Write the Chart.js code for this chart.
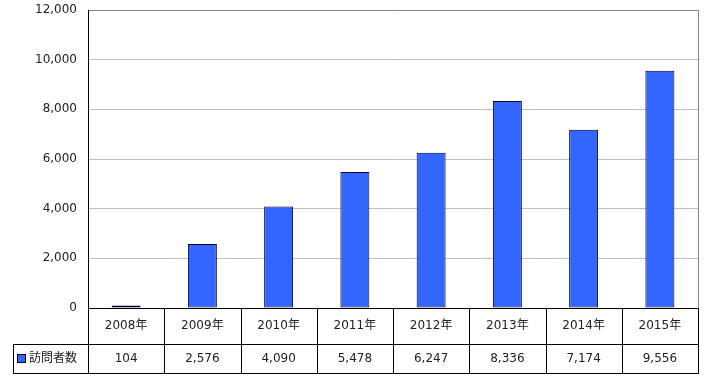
<!doctype html>
<html lang="ja">
  <head>
    <meta charset="utf-8" />
    <title>訪問者数</title>
    <style>
      body { margin: 0; background: #ffffff; }
      .chart-box { position: relative; width: 707px; height: 386px; }
    </style>
  </head>
  <body>
    <div class="chart-box">
      <canvas id="visitChart"></canvas>
    </div>

    <script src="https://cdn.jsdelivr.net/npm/chart.js@4.4.1/dist/chart.umd.min.js"></script>
    <script>
      const years = ["2008年", "2009年", "2010年", "2011年", "2012年", "2013年", "2014年", "2015年"];
      const visitors = [104, 2576, 4090, 5478, 6247, 8336, 7174, 9556];
      const seriesName = "訪問者数";
      const yTicks = [0, 2000, 4000, 6000, 8000, 10000, 12000];

      const FONT = "'DejaVu Sans', 'Noto Sans CJK JP', sans-serif";
      const TEXT = "#222222";
      const BAR_FILL = "#3366ff";
      const BAR_EDGE = "#000033";

      // table under the plot: grid lines, legend key and values
      const dataTable = {
        id: "dataTable",
        afterDraw(chart) {
          const ctx = chart.ctx;
          const area = chart.chartArea;
          const n = years.length;
          const colW = area.width / n;
          const row1 = 344, row2 = 373, leftEdge = 13;

          ctx.save();
          ctx.strokeStyle = "#000000";
          ctx.lineWidth = 1;
          ctx.beginPath();
          for (let i = 0; i <= n; i++) {
            const xb = Math.round(area.left + i * colW) + 0.5;
            ctx.moveTo(xb, area.bottom);
            ctx.lineTo(xb, row2);
          }
          ctx.moveTo(leftEdge + 0.5, row1);
          ctx.lineTo(leftEdge + 0.5, row2);
          ctx.moveTo(leftEdge, row1 + 0.5);
          ctx.lineTo(area.right + 1, row1 + 0.5);
          ctx.moveTo(leftEdge, row2 + 0.5);
          ctx.lineTo(area.right + 1, row2 + 0.5);
          ctx.stroke();

          // right border of plot
          ctx.strokeStyle = "#888888";
          ctx.beginPath();
          ctx.moveTo(Math.round(area.right) + 0.5, area.top);
          ctx.lineTo(Math.round(area.right) + 0.5, area.bottom);
          ctx.stroke();

          // legend key
          ctx.fillStyle = BAR_FILL;
          ctx.fillRect(17, 354, 9, 9);
          ctx.strokeStyle = BAR_EDGE;
          ctx.strokeRect(17.5, 354.5, 8, 8);

          ctx.fillStyle = TEXT;
          ctx.font = "12px " + FONT;
          ctx.textBaseline = "middle";
          ctx.textAlign = "left";
          ctx.fillText(seriesName, 29, 359);

          ctx.textAlign = "center";
          const xs = chart.scales.x;
          visitors.forEach((v, i) => {
            ctx.fillText(v.toLocaleString("en-US"), xs.getPixelForValue(i), 359);
          });
          ctx.restore();
        },
      };

      new Chart(document.getElementById("visitChart"), {
        type: "bar",
        data: {
          labels: years,
          datasets: [
            {
              label: seriesName,
              data: visitors,
              backgroundColor: BAR_FILL,
              borderColor: BAR_EDGE,
              borderWidth: 1,
              borderSkipped: false,
              categoryPercentage: 1,
              barPercentage: 0.38,
            },
          ],
        },
        options: {
          responsive: true,
          maintainAspectRatio: false,
          animation: false,
          layout: { padding: { top: 10, right: 9, left: 0, bottom: 0 } },
          plugins: { legend: { display: false }, tooltip: { enabled: false } },
          scales: {
            x: {
              grid: { display: false, drawTicks: false },
              border: { color: "#000000" },
              ticks: { color: TEXT, font: { family: FONT, size: 12 }, padding: 11, maxRotation: 0 },
              afterFit(scale) {
                scale.height = 78;
                scale.paddingLeft = 0;
                scale.paddingRight = 0;
              },
            },
            y: {
              min: 0,
              max: 12000,
              afterBuildTicks(scale) { scale.ticks = yTicks.map((v) => ({ value: v })); },
              grid: {
                drawTicks: false,
                color: (c) => (c.tick && c.tick.value === 12000 ? "#888888" : "#c0c0c0"),
              },
              border: { color: "#000000" },
              ticks: {
                color: TEXT,
                padding: 11,
                font: { family: FONT, size: 12 },
                callback: (v) => Number(v).toLocaleString("en-US"),
              },
              afterFit(scale) {
                scale.width = 88;
                scale.paddingTop = 0;
                scale.paddingBottom = 0;
              },
            },
          },
        },
        plugins: [dataTable],
      });
    </script>
  </body>
</html>
